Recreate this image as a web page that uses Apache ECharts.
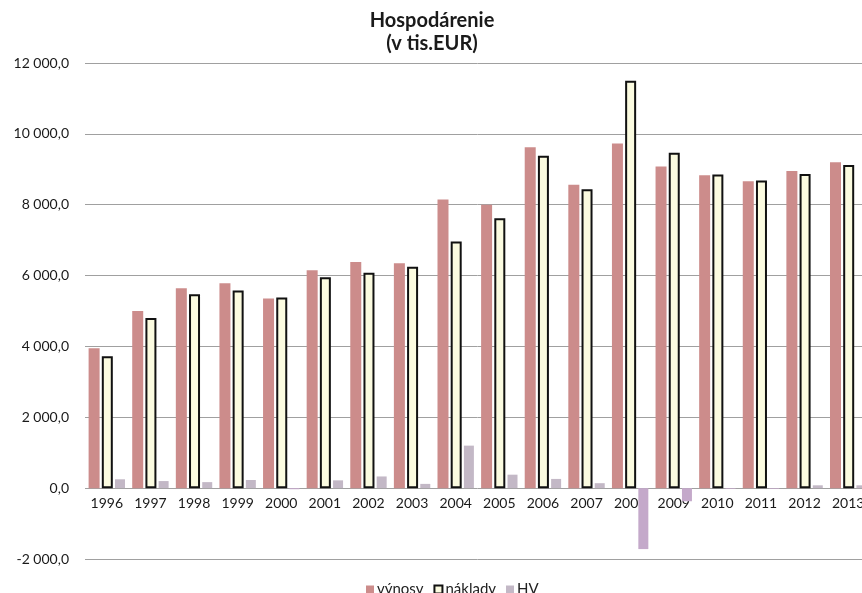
<!DOCTYPE html>
<html>
<head>
<meta charset="utf-8">
<script src="https://cdn.jsdelivr.net/npm/echarts@6/dist/echarts.min.js"></script>
<style>
html,body{margin:0;padding:0;background:#fff;overflow:hidden;width:862px;height:593px;}
#chart{width:870px;height:593px;}
</style>
</head>
<body>
<div id="chart"></div>
<script>
const years = ['1996','1997','1998','1999','2000','2001','2002','2003','2004','2005','2006','2007','2008','2009','2010','2011','2012','2013'];
const vynosy = [3950, 5000, 5640, 5780, 5350, 6150, 6380, 6350, 8150, 8000, 9620, 8560, 9730, 9080, 8830, 8660, 8950, 9200];
const naklady = [3720, 4800, 5470, 5580, 5380, 5950, 6080, 6250, 6960, 7620, 9380, 8440, 11500, 9470, 8850, 8680, 8870, 9120];
const hv = [250, 200, 170, 230, -30, 220, 330, 120, 1200, 380, 260, 140, -1720, -370, -20, -20, 80, 80];
const yTicks = {min: -2000, max: 12000, interval: 2000};

function fmt(v){
  const s = Math.abs(v).toFixed(0).replace(/\B(?=(\d{3})+(?!\d))/g, ' ');
  return (v < 0 ? '-' : '') + s + ',0';
}

const chart = echarts.init(document.getElementById('chart'));
const font = 'Lato, "Open Sans", sans-serif';
chart.setOption({
  backgroundColor: '#ffffff',
  animation: false,
  textStyle: {fontFamily: font},
  title: {
    text: 'Hospodárenie\n(v tis.EUR)',
    left: 427, textAlign: 'center', top: 4,
    textStyle: {fontFamily: font, fontWeight: 'bold', fontSize: 20, lineHeight: 23, color: '#1a1a1a'}
  },
  legend: {
    top: 577, left: 361,
    icon: 'rect', itemWidth: 8, itemHeight: 8, itemGap: 10,
    textStyle: {fontFamily: font, fontSize: 15, color: '#222', padding: [0, 0, 0, -2]},
    data: ['výnosy', 'náklady', {name: 'HV', itemStyle: {color: '#c3b8c6'}}]
  },
  grid: {left: 85, right: 0, top: 63, bottom: 34},
  xAxis: {
    type: 'category',
    data: years,
    axisLine: {show: false, onZero: false},
    axisTick: {show: false},
    axisLabel: {fontFamily: font, fontSize: 14, color: '#1a1a1a', margin: -63, interval: 0}
  },
  yAxis: {
    type: 'value',
    min: yTicks.min, max: yTicks.max, interval: yTicks.interval,
    axisLine: {show: false},
    axisTick: {show: false},
    splitLine: {lineStyle: {color: '#a0a0a0', width: 1}},
    axisLabel: {fontFamily: font, fontSize: 14, color: '#1a1a1a', margin: 16, formatter: fmt}
  },
  series: [
    {name: 'výnosy', type: 'bar', data: vynosy, barWidth: 11, barGap: '20%',
     itemStyle: {color: '#cc8c8b'}},
    {name: 'náklady', type: 'bar', data: naklady, barWidth: 11, barGap: '20%',
     itemStyle: {color: '#fbfbe0', borderColor: '#111', borderWidth: 2}},
    {name: 'HV', type: 'bar', data: hv, barWidth: 10, barGap: '20%',
     itemStyle: {color: function(p){ return p.value < 0 ? '#c4a9ca' : '#c3b8c6'; }}}
  ]
});
</script>
</body>
</html>
